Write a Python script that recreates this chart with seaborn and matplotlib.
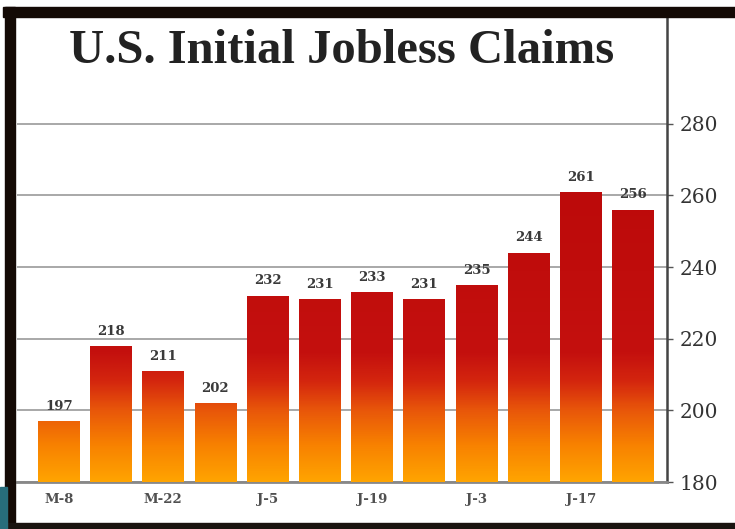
import numpy as np
import pandas as pd
import matplotlib
matplotlib.use('Agg')
import matplotlib.pyplot as plt
from matplotlib.colors import LinearSegmentedColormap, Normalize
from matplotlib.patches import Rectangle
import seaborn as sns

# data
weeks = ['M-8', 'M-15', 'M-22', 'M-29', 'J-5', 'J-12', 'J-19', 'J-26', 'J-3', 'J-10', 'J-17', 'J-24']
claims = [197, 218, 211, 202, 232, 231, 233, 231, 235, 244, 261, 256]
yticks = [180, 200, 220, 240, 260, 280]

sns.set_style('white')
plt.rcParams['font.family'] = ['DejaVu Serif']

W, H = 735, 529
fig = plt.figure(figsize=(W / 100, H / 100), dpi=100)
fig.patch.set_facecolor('white')
ax = fig.add_axes([17 / W, 47 / H, 650 / W, 467 / H])

df = pd.DataFrame({'week': weeks, 'claims': claims})
sns.barplot(data=df, x='week', y='claims', color='#c00a0a', width=0.8, ax=ax, zorder=3)

ymin, ymax = 180, 310.4
xlim = (-0.8, 11.65)

# vertical gradient, fixed in data units (orange at the bottom, red above ~210)
stops = [(180, '#ffa400'), (190, '#f88200'), (200, '#e8560a'), (208, '#d4260e'),
         (216, '#c4100e'), (262, '#bc0a0a')]
norm = Normalize(180, 262)
cmap = LinearSegmentedColormap.from_list('jobless', [(norm(v), c) for v, c in stops])

for patch in ax.patches:
    x0 = patch.get_x()
    x1 = x0 + patch.get_width()
    top = patch.get_y() + patch.get_height()
    grad = np.linspace(ymin, top, 256)[:, None]
    im = ax.imshow(grad, extent=[x0, x1, ymin, top], origin='lower', aspect='auto',
                   cmap=cmap, norm=norm, zorder=3)
    im.set_clip_path(patch)
    patch.set_facecolor('none')
    patch.set_edgecolor('none')

ax.bar_label(ax.containers[0], padding=6, fontsize=9.5, fontweight='bold', color='#3a3a3a')

ax.set_xlim(*xlim)
ax.set_ylim(ymin, ymax)
ax.set_xlabel('')
ax.set_ylabel('')

ax.yaxis.tick_right()
ax.set_yticks(yticks)
ax.tick_params(axis='y', length=4, width=1, color='#555555', pad=5, labelsize=14.5, labelcolor='#333333')
ax.set_xticks(range(len(weeks)))
ax.set_xticklabels([w if i % 2 == 0 else '' for i, w in enumerate(weeks)], fontweight='bold')
ax.tick_params(axis='x', length=0, pad=8, labelsize=9.5, labelcolor='#505050')

ax.grid(axis='y', color='#9a9a9a', lw=1.2)
ax.set_axisbelow(True)
for s in ['left', 'top']:
    ax.spines[s].set_visible(False)
ax.spines['right'].set_color('#444444')
ax.spines['right'].set_linewidth(1.8)
ax.spines['bottom'].set_color('#888888')
ax.spines['bottom'].set_linewidth(2)

ax.text(0.5, (482 - 63) / 467, 'U.S. Initial Jobless Claims', transform=ax.transAxes,
        ha='center', va='baseline', fontsize=35, fontweight='bold', color='#222222',
        family='Liberation Serif')

# dark frame around the picture, and the teal corner
def box(x, y, w, h, c):
    fig.add_artist(Rectangle((x / W, 1 - (y + h) / H), w / W, h / H,
                             transform=fig.transFigure, color=c, zorder=10))

box(3, 7, 732, 10, '#140a05')
box(5, 7, 10, 518, '#140a05')
box(3, 523, 732, 6, '#1a1410')
box(0, 487, 7, 42, '#276d7b')

fig.savefig('out.png', dpi=100)
